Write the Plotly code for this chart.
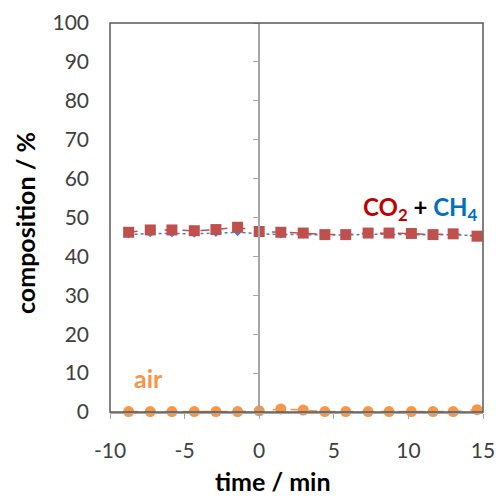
import plotly.graph_objects as go

time_min = [-8.75, -7.3, -5.85, -4.35, -2.9, -1.45, 0.0, 1.45, 2.95, 4.4, 5.8, 7.3, 8.7, 10.2, 11.65, 13.0, 14.6]
co2_ch4 = [46.2, 46.8, 46.8, 46.6, 46.9, 47.5, 46.4, 46.2, 46.0, 45.6, 45.6, 46.0, 46.0, 45.9, 45.6, 45.8, 45.2]
ch4_ref = [45.6, 45.9, 45.9, 45.8, 46.0, 46.2, 45.8, 45.6, 45.6, 45.5, 45.5, 45.7, 45.7, 45.6, 45.5, 45.6, 45.3]
air = [0.1, 0.1, 0.1, 0.1, 0.1, 0.1, 0.3, 0.8, 0.5, 0.1, 0.1, 0.1, 0.1, 0.1, 0.1, 0.1, 0.6]
x_ticks = [-10, -5, 0, 5, 10, 15]
x_tick_labels = ["-10", "-5", "0", "5", "10", "15"]
y_ticks = list(range(0, 101, 10))

FONT = "Lato, 'Open Sans', sans-serif"
fig = go.Figure()

fig.add_trace(go.Scatter(x=time_min, y=ch4_ref, mode="lines+markers",
                         line=dict(color="#4F81BD", dash="dot", width=1.5),
                         marker=dict(symbol="diamond", size=6, color="#4F81BD"),
                         cliponaxis=False, showlegend=False))
fig.add_trace(go.Scatter(x=time_min, y=co2_ch4, mode="lines+markers",
                         line=dict(color="#C0504D", dash="dash", width=1.5),
                         marker=dict(symbol="square", size=11, color="#C0504D"),
                         cliponaxis=False, showlegend=False))
fig.add_trace(go.Scatter(x=time_min, y=air, mode="lines+markers",
                         line=dict(color="#F79646", dash="dash", width=1.5),
                         marker=dict(symbol="circle", size=11, color="#F79646"),
                         cliponaxis=False, showlegend=False, yaxis="y2"))

fig.update_layout(
    width=496, height=496,
    margin=dict(l=110, r=13, t=23, b=84, autoexpand=False),
    plot_bgcolor="white", paper_bgcolor="white",
    font=dict(family=FONT, size=21, color="#404040"),
    xaxis=dict(range=[-10, 15], tickvals=x_ticks, ticktext=x_tick_labels,
               ticks="outside", ticklen=5, automargin=False,
               tickcolor="#A6A6A6", showline=True, linecolor="#A6A6A6", linewidth=1.5,
               showgrid=False, zeroline=False, ticklabelstandoff=14,
               tickfont=dict(size=21, color="#404040")),
    yaxis=dict(range=[0, 100], tickvals=y_ticks, ticks="", showline=False,
               showgrid=False, zeroline=False, ticklabelstandoff=20, automargin=False,
               tickfont=dict(size=21, color="#404040")),
    yaxis2=dict(range=[0, 100], tickvals=y_ticks, overlaying="y", anchor="free",
                position=0.4, side="left", ticks="outside", ticklen=5, automargin=False,
                tickcolor="#A6A6A6", showline=True, linecolor="#A6A6A6", linewidth=1.5,
                showticklabels=False, showgrid=False, zeroline=False),
    shapes=[dict(type="rect", xref="paper", yref="paper", x0=0, x1=1, y0=0, y1=1,
                 line=dict(color="#595959", width=1.5), layer="above")],
    annotations=[
        dict(text="<b>time / min</b>", xref="paper", yref="paper", x=(273 - 110) / 373,
             y=-69 / 389, xanchor="center", yanchor="middle", showarrow=False,
             font=dict(size=25, color="#000000", family=FONT)),
        dict(text="<b>composition / %</b>", xref="paper", yref="paper", x=(25 - 110) / 373,
             y=(412 - 223) / 389, xanchor="center", yanchor="middle", showarrow=False,
             textangle=-90, font=dict(size=25, color="#000000", family=FONT)),
        dict(text="<b><span style='color:#C00000'>CO<sub>2</sub></span> + "
                  "<span style='color:#0070C0'>CH<sub>4</sub></span></b>",
             xref="paper", yref="paper", x=(420 - 110) / 373, y=(412 - 208) / 389,
             xanchor="center", yanchor="middle", showarrow=False,
             font=dict(size=24, color="#000000", family=FONT)),
        dict(text="<b>air</b>", xref="paper", yref="paper", x=(148 - 110) / 373,
             y=(412 - 378) / 389, xanchor="center", yanchor="middle", showarrow=False,
             font=dict(size=25, color="#F79646", family=FONT)),
    ],
)

fig.write_html("out.html")
